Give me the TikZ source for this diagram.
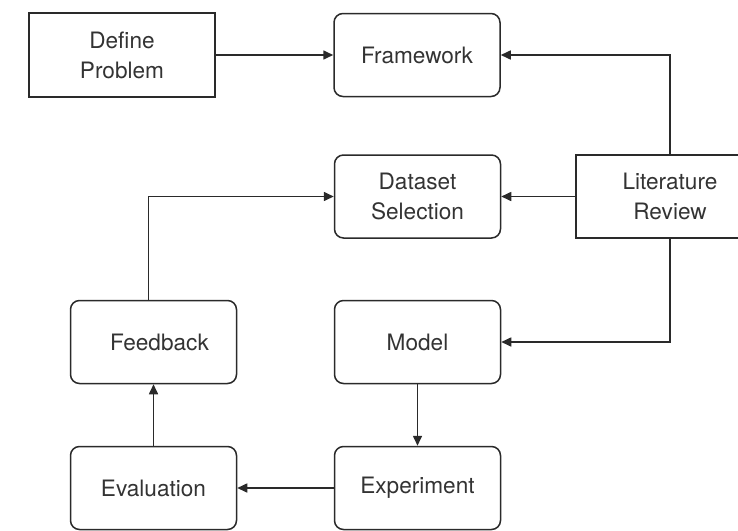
\documentclass[tikz,border=0pt]{standalone}
\usepackage{fontspec}
\setmainfont{TeX Gyre Heros}
\usepackage{xcolor}
\usepackage{tikz}
\usetikzlibrary{arrows.meta}
\definecolor{boxline}{HTML}{2A2A2A}
\definecolor{boxtext}{HTML}{333333}

\begin{document}
\begin{tikzpicture}[x=0.5pt,y=-0.5pt,
  every node/.style={draw=boxline, line width=0.75pt, text=boxtext, align=center,
    font=\fontsize{11.3}{15}\selectfont, inner sep=0pt},
  sqbox/.style={minimum width=93pt, minimum height=42pt},
  rbox/.style={rounded corners=4.5pt, minimum width=83pt, minimum height=41.5pt},
  arr/.style={draw=boxline, line width=0.8pt, -{Triangle[length=5pt,width=4.5pt]}}]
\useasboundingbox (0,0) rectangle (738,530);
\node[sqbox] (define) at (122,55) {Define\\Problem};
\node[rbox] (frame) at (417,55) {Framework};
\node[rbox] (data) at (417.5,196.5) {Dataset\\Selection};
\node[sqbox, minimum width=94pt, minimum height=41.5pt] (lit) at (670,196.5) {Literature\\Review};
\node[rbox] (feed) at (153.5,342) {\hspace{6pt}Feedback};
\node[rbox] (model) at (417.5,342) {Model};
\node[rbox] (eval) at (153.5,488) {Evaluation};
\node[rbox] (exper) at (417.5,488) {Experiment};
\draw[arr] (define) -- (frame);
\draw[arr] (lit.north) |- (frame.east);
\draw[arr] (lit) -- (data);
\draw[arr] (lit.south) |- (model.east);
\draw[arr] (model) -- (exper);
\draw[arr] (exper) -- (eval);
\draw[arr] (eval) -- (feed);
\draw[arr] ([xshift=-2.5pt]feed.north) |- (data.west);
\end{tikzpicture}
\end{document}
